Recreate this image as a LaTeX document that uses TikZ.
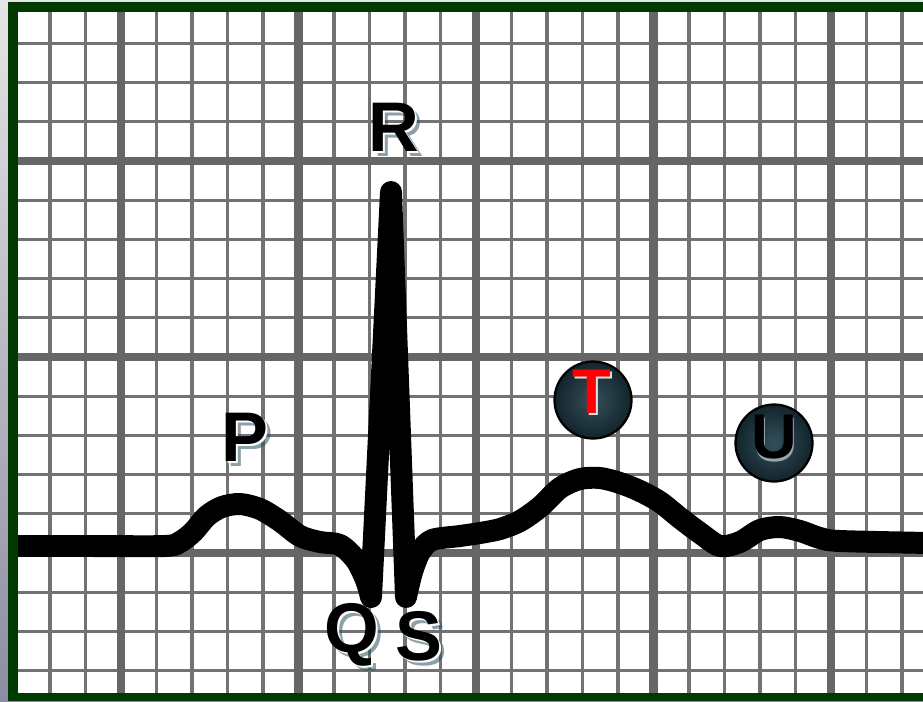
\documentclass[tikz,border=0pt]{standalone}
\usepackage{fontspec}
\setmainfont{Liberation Sans}
\usepackage{tikz}

\definecolor{framegreen}{HTML}{003A00}
\definecolor{gridminor}{HTML}{727272}
\definecolor{gridmajor}{HTML}{666666}
\definecolor{shadeteal}{HTML}{2E5262}
\definecolor{discdark}{HTML}{13242C}
\definecolor{disclight}{HTML}{34505C}

% wave label with its blurred-looking shadow
\newcommand{\wavelabel}[3]{%
\node[wave,text=shadeteal,opacity=0.55,xshift=2.8pt,yshift=-2.8pt] (#1sh) at (#2) {#3};
\node[wave,text=white,xshift=1.1pt,yshift=-1.1pt] (#1hl) at (#2) {#3};
\node[wave] (#1) at (#2) {#3};
}

\begin{document}
\begin{tikzpicture}[
x=0.02cm,
y=-0.02cm,
minor/.style={draw=gridminor,line width=1.9pt},
major/.style={draw=gridmajor,line width=4.6pt},
trace/.style={draw=black,line width=12.5pt,line cap=round,line join=round},
wave/.style={font=\fontsize{40}{40}\selectfont\bfseries,inner sep=0pt},
disc/.style={circle,draw=black,line width=1.3pt,inner color=disclight,outer color=discdark,minimum size=1.54cm,inner sep=0pt},
disclbl/.style={font=\fontsize{36}{36}\selectfont\bfseries,inner sep=0pt}
]
\useasboundingbox (0,0) rectangle (923,701);
\shade[top color=black!10,bottom color=blue!20!black!45] (0,0) rectangle (923,701);
\fill[white] (18,12) rectangle (923,693);

\begin{scope}
\clip (18,12) rectangle (923,693);
% small squares
\foreach \k in {-3,...,22}
  \draw[minor] ({121+35.5*\k},0) -- ({121+35.5*\k},701);
\foreach \j in {-4,...,14}
  \draw[minor] (0,{161+39.2*\j}) -- (923,{161+39.2*\j});
% big squares
\foreach \k in {0,...,4}
  \draw[major] ({121+177.5*\k},0) -- ({121+177.5*\k},701);
\foreach \j in {0,5,10}
  \draw[major] (0,{161+39.2*\j}) -- (923,{161+39.2*\j});

% the tracing
\draw[trace] plot[smooth,tension=0.5] coordinates {(10,546) (90,546) (165,546) (180,542) (193,532) (207,516) (222,507) (240,504) (260,509) (280,521) (300,536) (320,542) (340,545) (356,560) (366,580) (371,597)}
  -- (391,192) -- (406,597)
  -- plot[smooth,tension=0.5] coordinates {(406,597) (412,572) (420,552) (432,540) (460,536) (480,533) (500,529) (520,521) (540,507) (560,488) (580,479) (600,478) (620,483) (640,491) (660,502) (680,518) (700,533) (720,546) (740,542) (760,530) (780,527) (800,531) (820,538) (840,541) (930,543)};
\end{scope}

% frame
\fill[framegreen] (8,2) rectangle (923,12);
\fill[framegreen] (8,2) rectangle (18,701);
\fill[framegreen] (8,693) rectangle (923,701);

\wavelabel{plbl}{245,437}{P}
\wavelabel{rlbl}{394,127}{R}
\wavelabel{qlbl}{352,635}{Q}
\wavelabel{slbl}{419,636}{S}

\node[disc] (tdisc) at (593,400) {};
\node[disclbl,text=white,opacity=0.85,xshift=1.2pt,yshift=-1.2pt] (tglow) at (592,392) {T};
\node[disclbl,text=red] (tlbl) at (592,392) {T};

\node[disc] (udisc) at (774,443) {};
\node[disclbl,text=white,opacity=0.55,xshift=0.6pt,yshift=-1.7pt] (uglow) at (774,437) {U};
\node[disclbl,text=black] (ulbl) at (774,437) {U};
\end{tikzpicture}
\end{document}
